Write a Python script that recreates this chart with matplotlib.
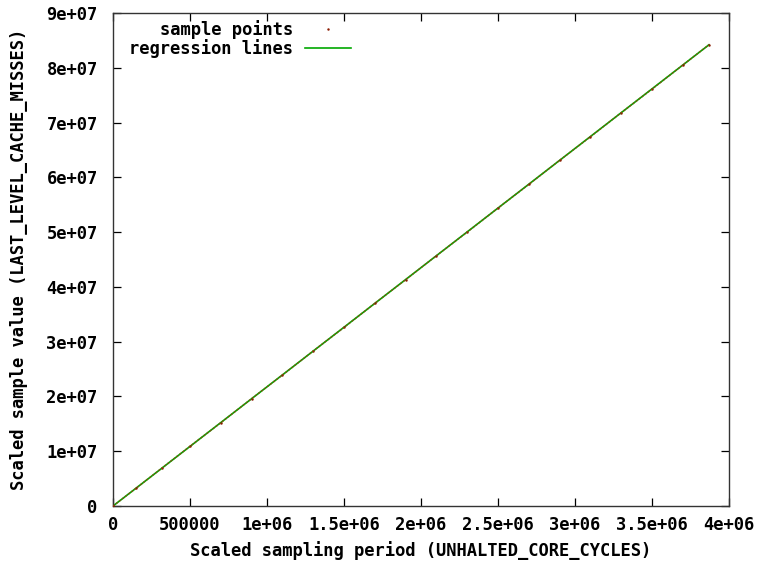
import matplotlib
matplotlib.use("Agg")
import matplotlib.pyplot as plt

# sample points (scaled sampling period, scaled sample value)
sample_x = [0, 150000, 320000, 500000, 700000, 900000, 1100000, 1300000, 1500000,
            1700000, 1900000, 2100000, 2300000, 2500000, 2700000, 2900000, 3100000,
            3300000, 3500000, 3700000, 3870000]
sample_y = [0, 3250000, 6980000, 10900000, 15200000, 19600000, 23900000, 28300000,
            32600000, 37000000, 41300000, 45700000, 50000000, 54400000, 58700000,
            63100000, 67400000, 71800000, 76100000, 80500000, 84200000]
# regression line endpoints
reg_x = [0, 3870000]
reg_y = [0, 84200000]

x_ticks = [0, 500000, 1000000, 1500000, 2000000, 2500000, 3000000, 3500000, 4000000]
x_labels = ["0", "500000", "1e+06", "1.5e+06", "2e+06", "2.5e+06", "3e+06", "3.5e+06", "4e+06"]
y_ticks = [0, 1e7, 2e7, 3e7, 4e7, 5e7, 6e7, 7e7, 8e7, 9e7]
y_labels = ["0", "1e+07", "2e+07", "3e+07", "4e+07", "5e+07", "6e+07", "7e+07", "8e+07", "9e+07"]

plt.rcParams['font.family'] = ['DejaVu Sans Mono']
plt.rcParams['font.size'] = 12.3
plt.rcParams['font.weight'] = 'bold'
plt.rcParams['axes.labelweight'] = 'bold'

fig = plt.figure(figsize=(7.62, 5.65), dpi=100)
ax = fig.add_axes([113/762, 1 - 506/565, (729-113)/762, (506-13)/565])

ax.plot(reg_x, reg_y, color='#00a800', lw=1.2, label='regression lines', zorder=2)
ax.plot(sample_x, sample_y, linestyle='none', marker='.', markersize=1.5,
        color='#8b1a00', label='sample points', zorder=3)
# dotted overlay to emulate dense sample points
ax.plot(sample_x, sample_y, linestyle=(0, (1.5, 1)), lw=1.1, color='#8b4a10', alpha=0.75, zorder=3)

ax.set_xlim(0, 4000000)
ax.set_ylim(0, 9e7)
ax.set_xticks(x_ticks)
ax.set_xticklabels(x_labels)
ax.set_yticks(y_ticks)
ax.set_yticklabels(y_labels)
ax.tick_params(direction='in', top=True, right=True, length=6, width=0.9, colors='black')
ax.tick_params(axis='x', pad=7)
ax.tick_params(axis='y', pad=11)
for s in ax.spines.values():
    s.set_color('#333333')
    s.set_linewidth(1.0)

ax.set_xlabel('Scaled sampling period (UNHALTED_CORE_CYCLES)', labelpad=5)
ax.set_ylabel('Scaled sample value (LAST_LEVEL_CACHE_MISSES)', labelpad=13)

handles, labels = ax.get_legend_handles_labels()
order = [1, 0]
leg = ax.legend([handles[i] for i in order], [labels[i] for i in order],
                loc='upper left', frameon=False, markerfirst=False,
                handlelength=2.7, handletextpad=0.7, borderaxespad=0.0, labelspacing=0.0,
                bbox_to_anchor=(0.015, 1.0))
for t in leg.get_texts():
    t.set_ha('right')
leg._legend_box.align = 'right'

fig.savefig('out.png', dpi=100)
